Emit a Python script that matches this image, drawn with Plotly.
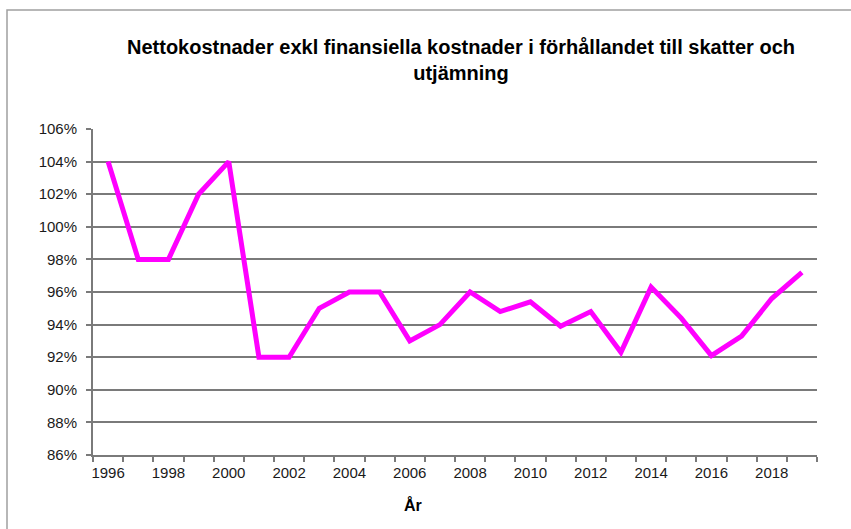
import plotly.graph_objects as go

years = list(range(1996, 2020))
values = [104.0, 98.0, 98.0, 102.0, 104.0, 92.0, 92.0, 95.0, 96.0, 96.0, 93.0, 94.0,
          96.0, 94.8, 95.4, 93.9, 94.8, 92.3, 96.3, 94.4, 92.1, 93.3, 95.6, 97.2]
label_years = list(range(1996, 2020, 2))
y_ticks = list(range(86, 107, 2))

FONT = "Liberation Sans, Arial, sans-serif"
GRID = "#7a7a7a"

fig = go.Figure()
fig.add_trace(
    go.Scatter(
        x=years,
        y=values,
        mode="lines",
        line=dict(color="#ff00ff", width=5),
        showlegend=False,
    )
)

fig.update_layout(
    width=851,
    height=529,
    margin=dict(l=93, r=34, t=129, b=74),
    paper_bgcolor="white",
    plot_bgcolor="white",
    font=dict(family=FONT, size=15, color="#1a1a1a"),
    title=dict(
        text="<b>Nettokostnader exkl finansiella kostnader i förhållandet till skatter och<br>utjämning</b>",
        x=461 / 851,
        xanchor="center",
        y=1 - 54 / 529,
        yanchor="top",
        font=dict(family=FONT, size=20, color="#000000"),
    ),
    xaxis=dict(
        range=[1995.5, 2019.5],
        tickvals=label_years,
        ticktext=[str(y) for y in label_years],
        ticks="",
        ticklabelstandoff=3,
        showgrid=False,
        showline=True,
        linecolor=GRID,
        linewidth=2,
        zeroline=False,
        minor=dict(ticks="outside", tick0=1995.5, dtick=1, ticklen=5,
                   tickcolor=GRID, tickwidth=2, showgrid=False),
        tickfont=dict(size=15),
    ),
    yaxis=dict(
        range=[86, 106],
        tickvals=y_ticks,
        ticktext=[f"{v}%" for v in y_ticks],
        ticks="outside",
        ticklen=5,
        tickcolor=GRID,
        tickwidth=2,
        ticklabelstandoff=6,
        showgrid=True,
        gridcolor=GRID,
        gridwidth=2,
        showline=True,
        linecolor=GRID,
        linewidth=2,
        zeroline=False,
        tickfont=dict(size=15),
    ),
)

fig.add_annotation(
    text="<b>År</b>",
    xref="paper",
    yref="paper",
    x=(413 - 93) / 724,
    y=(455 - 505) / 326,
    xanchor="center",
    yanchor="middle",
    showarrow=False,
    font=dict(family=FONT, size=16, color="#000000"),
)

# chart frame
fig.add_shape(
    type="rect",
    xref="paper",
    yref="paper",
    x0=(7 - 93) / 724,
    x1=1.2,
    y0=-0.4,
    y1=1 + (129 - 10) / 326,
    line=dict(color="#a0a0a0", width=1.5),
    layer="below",
)

# drop the default body margin so the figure fills the window exactly
fig.write_html(
    "out.html",
    config={"displayModeBar": False},
    post_script="document.body.style.margin='0';",
)
